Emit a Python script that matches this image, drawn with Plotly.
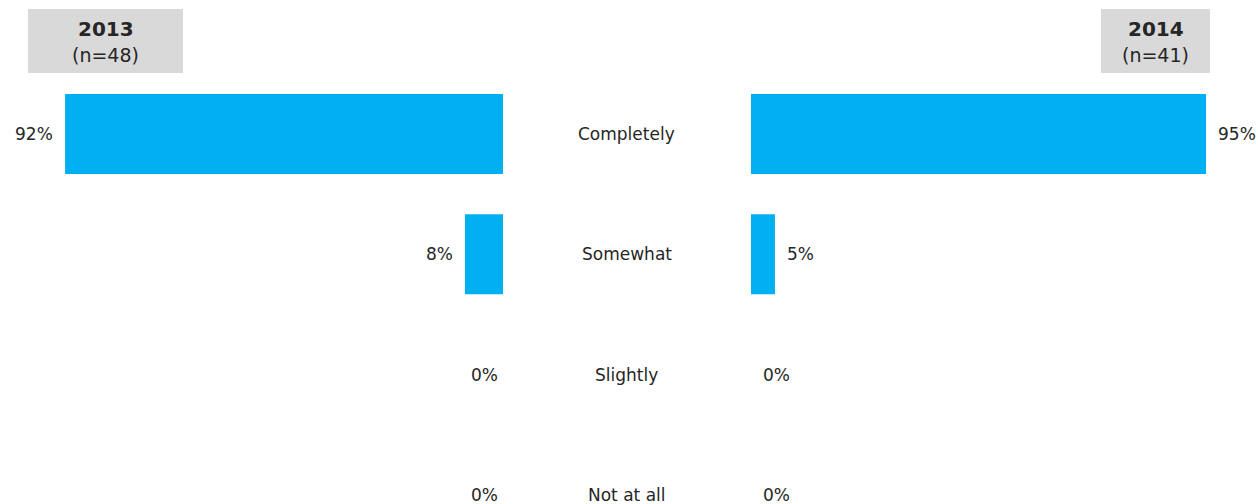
import plotly.graph_objects as go

categories = ["Completely", "Somewhat", "Slightly", "Not at all"]
values_2013 = [92, 8, 0, 0]
values_2014 = [95, 5, 0, 0]
year_labels = ["2013", "2014"]
n_labels = ["(n=48)", "(n=41)"]

W, H = 1259, 504
BAR = "#00B0F0"
TXT = "#262626"
FONT = "DejaVu Sans"

ypos = list(range(len(categories)))

fig = go.Figure()
fig.add_trace(go.Bar(x=values_2013, y=ypos, orientation="h", marker_color=BAR,
                     marker_line_width=0, width=0.665, xaxis="x", yaxis="y", hoverinfo="x+y"))
fig.add_trace(go.Bar(x=values_2014, y=ypos, orientation="h", marker_color=BAR,
                     marker_line_width=0, width=0.665, xaxis="x2", yaxis="y", hoverinfo="x+y"))

annotations = []
for i, (c, a, b) in enumerate(zip(categories, values_2013, values_2014)):
    annotations.append(dict(x=0.498, xref="paper", y=i, yref="y", text=c, showarrow=False,
                            font=dict(size=17, color=TXT, family=FONT), xanchor="center"))
    annotations.append(dict(x=a, xref="x", y=i, yref="y", text=f"{a}%", showarrow=False,
                            font=dict(size=17, color=TXT, family=FONT), xanchor="right",
                            xshift=-3 if a == 0 else -10))
    annotations.append(dict(x=b, xref="x2", y=i, yref="y", text=f"{b}%", showarrow=False,
                            font=dict(size=17, color=TXT, family=FONT), xanchor="left",
                            xshift=10))

shapes = []
boxes = [(28, 183), (1101, 1210)]
for (x0, x1), yr, n in zip(boxes, year_labels, n_labels):
    shapes.append(dict(type="rect", xref="paper", yref="paper", x0=x0 / W, x1=x1 / W,
                       y0=1 - 73 / H, y1=1 - 9 / H, fillcolor="#D9D9D9", line_width=0,
                       layer="below"))
    cx = (x0 + x1) / 2 / W
    annotations.append(dict(x=cx, xref="paper", y=1 - 29 / H, yref="paper", text=f"<b>{yr}</b>",
                            showarrow=False, font=dict(size=20, color=TXT, family=FONT),
                            xanchor="center", yanchor="middle"))
    annotations.append(dict(x=cx, xref="paper", y=1 - 55 / H, yref="paper", text=n,
                            showarrow=False, font=dict(size=19, color=TXT, family=FONT),
                            xanchor="center", yanchor="middle"))

row0, step = 134, 120.3
fig.update_layout(
    width=W, height=H, margin=dict(l=0, r=0, t=0, b=0),
    paper_bgcolor="white", plot_bgcolor="white", showlegend=False,
    font=dict(family=FONT, color=TXT),
    xaxis=dict(domain=[27 / W, 503 / W], range=[100, 0], visible=False, fixedrange=True),
    xaxis2=dict(domain=[751 / W, 1230 / W], range=[0, 100], visible=False, fixedrange=True),
    yaxis=dict(range=[(H - row0) / step, -row0 / step], visible=False, fixedrange=True),
    annotations=annotations, shapes=shapes,
)

fig.write_html("out.html", config={"displayModeBar": False},
               post_script="document.body.style.margin='0';document.body.style.overflow='hidden';")
